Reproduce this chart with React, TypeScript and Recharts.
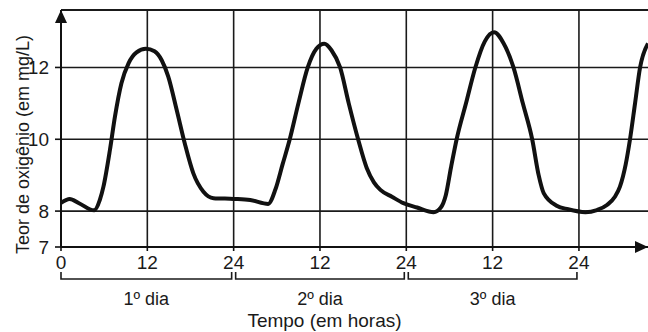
import { LineChart, Line, XAxis, YAxis, ReferenceLine, ReferenceDot } from 'recharts';

// leitura aproximada da curva (horas desde o início, teor em mg/L)
const hours = [
  0, 1.2, 2.5, 4.6, 5.4, 5.9, 6.8, 7.5, 8.4, 9.4, 10.5, 11.8, 13.0, 14.0, 14.9, 16.1, 17.2, 18.4, 19.8, 21.2, 24,
  26.3, 28.8, 29.8, 30.8, 31.8, 33.0, 34.3, 35.5, 36.6, 37.6, 38.8, 40.0, 41.3, 42.5, 43.5, 44.4, 46.0, 47.6,
  49.5, 51.8, 52.8, 53.5, 54.2, 55.0, 56.3, 57.6, 58.9, 60.2, 61.5, 62.9, 64.2, 65.5, 66.4, 67.1, 68.9, 70.5,
  72.9, 74.5, 75.9, 77.0, 77.7, 78.5, 79.1, 79.8, 80.5, 81.6,
];
const oxygen = [
  8.23, 8.34, 8.22, 8.02, 8.31, 8.68, 9.7, 10.63, 11.56, 12.12, 12.42, 12.52, 12.45, 12.2, 11.75, 10.8, 9.89, 9.05, 8.54, 8.36, 8.34,
  8.31, 8.2, 8.6, 9.3, 10.0, 11.0, 12.0, 12.52, 12.66, 12.48, 12.0, 11.0, 10.0, 9.2, 8.8, 8.59, 8.4, 8.22,
  8.1, 7.97, 8.1, 8.45, 9.2, 10.0, 11.0, 12.0, 12.72, 12.98, 12.68, 12.0, 11.0, 10.0, 9.0, 8.5, 8.15, 8.05,
  7.97, 8.03, 8.17, 8.4, 8.68, 9.3, 10.0, 11.0, 12.0, 12.67,
];

const xTicks = [0, 12, 24, 36, 48, 60, 72];
const xTickLabels = ['0', '12', '24', '12', '24', '12', '24'];
const yTicks = [7, 8, 10, 12];
const gridX = [12, 24, 36, 48, 60, 72];
const gridY = [8, 10, 12];
const dayCenters = [12, 36, 60];
const dayLabels = ['1º dia', '2º dia', '3º dia'];

const X_MAX = 81.6;
const Y_MIN = 7;
const Y_MAX = 13.6;
const W = 648;
const H = 332;
const LEFT = 61;
const FONT = "'Liberation Sans', Arial, sans-serif";
const INK = '#1a1a1a';

const data = hours.map((h, i) => ({ h, o2: oxygen[i] }));

const HALF_DAY = ((W - LEFT) / X_MAX) * 12;

function DayTick(props: any) {
  const { x, y, index } = props;
  const x1 = x - HALF_DAY + (index === 0 ? 0 : 2);
  const x2 = x + HALF_DAY - 2;
  return (
    <g>
      <path d={`M${x1},${y} V${y + 7} H${x2} V${y}`} fill="none" stroke={INK} strokeWidth={1.6} />
      <text x={(x1 + x2) / 2} y={y + 33} textAnchor="middle" fontSize={18} fontFamily={FONT} fill={INK}>
        {dayLabels[index]}
      </text>
    </g>
  );
}

const ArrowRight = (p: any) => (
  <polygon points={`${p.cx},${p.cy} ${p.cx - 13},${p.cy - 6} ${p.cx - 13},${p.cy + 6}`} fill="#111" />
);
const ArrowUp = (p: any) => (
  <polygon points={`${p.cx},${p.cy} ${p.cx - 6},${p.cy + 13} ${p.cx + 6},${p.cy + 13}`} fill="#111" />
);

export default function App() {
  return (
    <div style={{ position: 'absolute', left: 0, top: 0, background: '#fff' }}>
      <LineChart width={W} height={H} data={data} margin={{ top: 10, right: 0, left: 0, bottom: 0 }}>
        <XAxis
          dataKey="h"
          type="number"
          domain={[0, X_MAX]}
          allowDataOverflow
          ticks={xTicks}
          interval={0}
          tickFormatter={(v: number) => xTickLabels[xTicks.indexOf(v)]}
          height={25}
          tickSize={4}
          tickMargin={5}
          axisLine={{ stroke: '#111', strokeWidth: 2 }}
          tickLine={{ stroke: '#111', strokeWidth: 1.6 }}
          tick={{ fontSize: 19, fontFamily: FONT, fill: INK }}
        />
        <XAxis
          xAxisId="days"
          dataKey="h"
          type="number"
          domain={[0, X_MAX]}
          allowDataOverflow
          ticks={dayCenters}
          interval={0}
          height={60}
          tickSize={0}
          tickMargin={0}
          axisLine={false}
          tickLine={false}
          tick={<DayTick />}
          label={{
            content: (p: any) => {
              const vb = p.viewBox;
              return (
                <text x={vb.x + vb.width / 2 - 30} y={vb.y + 55} textAnchor="middle" fontSize={19} fontFamily={FONT} fill={INK}>
                  Tempo (em horas)
                </text>
              );
            },
          }}
        />
        <YAxis
          type="number"
          domain={[Y_MIN, Y_MAX]}
          allowDataOverflow
          ticks={yTicks}
          interval={0}
          width={LEFT}
          tickSize={6}
          tickMargin={6}
          axisLine={{ stroke: '#111', strokeWidth: 2 }}
          tickLine={{ stroke: '#111', strokeWidth: 1.6 }}
          tick={{ fontSize: 19, fontFamily: FONT, fill: INK }}
          label={{
            content: (p: any) => {
              const vb = p.viewBox;
              const cx = vb.x + 23;
              const cy = vb.y + vb.height / 2 + 16;
              return (
                <text
                  x={cx}
                  y={cy}
                  transform={`rotate(-90 ${cx} ${cy})`}
                  textAnchor="middle"
                  dominantBaseline="central"
                  fontSize={18}
                  fontFamily={FONT}
                  fill={INK}
                >
                  Teor de oxigênio (em mg/L)
                </text>
              );
            },
          }}
        />
        {gridY.map((v) => (
          <ReferenceLine key={'gy' + v} y={v} stroke={INK} strokeWidth={1.6} />
        ))}
        <ReferenceLine y={Y_MAX} stroke={INK} strokeWidth={2} />
        {gridX.map((v) => (
          <ReferenceLine key={'gx' + v} x={v} stroke={INK} strokeWidth={1.6} />
        ))}
        <Line
          type="monotone"
          dataKey="o2"
          stroke="#111"
          strokeWidth={4}
          dot={false}
          isAnimationActive={false}
        />
        <ReferenceDot x={X_MAX} y={Y_MIN} r={0} ifOverflow="visible" shape={ArrowRight} />
        <ReferenceDot x={0} y={Y_MAX} r={0} ifOverflow="visible" shape={ArrowUp} />
      </LineChart>
    </div>
  );
}
